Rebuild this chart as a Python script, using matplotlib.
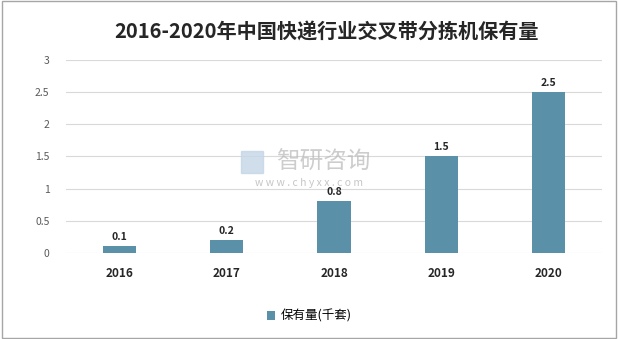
import matplotlib
matplotlib.use("Agg")
import matplotlib.pyplot as plt
from matplotlib.patches import Rectangle

plt.rcParams['font.family'] = ['Noto Sans CJK SC', 'DejaVu Sans']

years = ["2016", "2017", "2018", "2019", "2020"]
values = [0.1, 0.2, 0.8, 1.5, 2.5]
value_labels = ["0.1", "0.2", "0.8", "1.5", "2.5"]
title = "2016-2020年中国快递行业交叉带分拣机保有量"
legend_label = "保有量(千套)"

bar_color = "#5b91a8"

fig = plt.figure(figsize=(6.18, 3.39), dpi=100)
ax = fig.add_axes([0.107, 0.254, 0.867, 0.569])

x = range(len(years))
bars = ax.bar(x, values, width=0.31, color=bar_color, label=legend_label, zorder=3)

for xi, v, lab in zip(x, values, value_labels):
    ax.text(xi, v + 0.07, lab, ha="center", va="bottom", fontsize=7.5,
            fontweight="bold", color="#262626")

ax.set_xlim(-0.5, len(years) - 0.5)
ax.set_ylim(0, 3)
ax.set_yticks([0, 0.5, 1, 1.5, 2, 2.5, 3])
ax.set_yticklabels(["0", "0.5", "1", "1.5", "2", "2.5", "3"])
ax.set_xticks(list(x))
ax.set_xticklabels(years, fontweight="bold", fontsize=8.5, color="#262626")
ax.tick_params(axis="y", labelsize=7.5, labelcolor="#595959", length=0, pad=12)
ax.tick_params(axis="x", length=0, pad=10)
ax.grid(axis="y", color="#d9d9d9", linewidth=0.8, zorder=0)
for s in ax.spines.values():
    s.set_visible(False)

fig.text(0.528, 0.905, title, ha="center", va="center", fontsize=14.5,
         fontweight="bold", color="#262626")

# watermark
fig.text(0.523, 0.522, "智研咨询", ha="center", va="center", fontsize=17,
         color="#b8b8b8", alpha=0.7)
fig.add_artist(Rectangle((0.39, 0.49), 0.035, 0.065, transform=fig.transFigure,
                         color="#c5d6e6", alpha=0.8))
fig.text(0.5, 0.46, "w w w . c h y x x . c o m", ha="center", va="center",
         fontsize=7.5, color="#b8b8b8", alpha=0.8)

fig.legend(loc="center", bbox_to_anchor=(0.5, 0.068), frameon=False,
           fontsize=9, handlelength=0.7, handleheight=0.7, handletextpad=0.4)

fig.patches.append(Rectangle((0.003, 0.003), 0.994, 0.994, transform=fig.transFigure,
                             fill=False, edgecolor="#a6a6a6", linewidth=1))

fig.savefig("out.png", dpi=100)
